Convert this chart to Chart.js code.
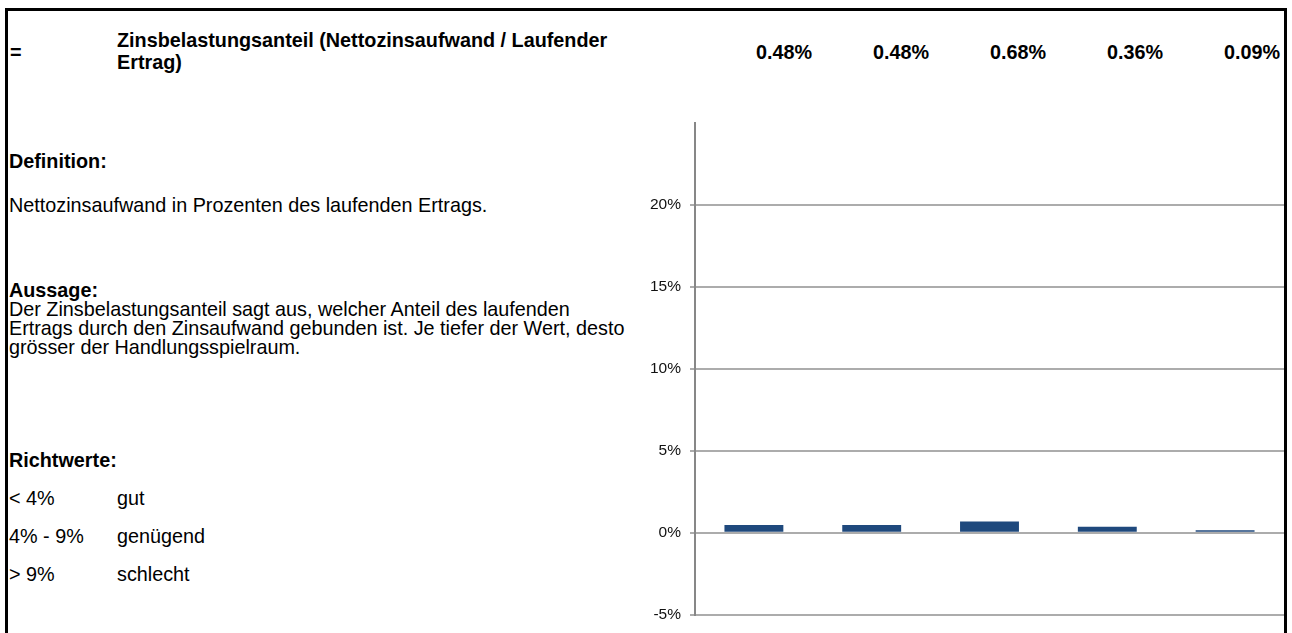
<!DOCTYPE html>
<html lang="de">
<head>
<meta charset="utf-8">
<title>Zinsbelastungsanteil</title>
<script src="https://cdn.jsdelivr.net/npm/chart.js@4.4.0/dist/chart.umd.min.js"></script>
<style>
    html, body {
        margin: 0;
        padding: 0;
        background: #fff;
    }
    body {
        width: 1292px;
        height: 633px;
        position: relative;
        overflow: hidden;
        font-family: "Liberation Sans", Arial, sans-serif;
        font-size: 19.8px;
        line-height: 19px;
        color: #000;
    }
    .frame {
        position: absolute;
        left: 5px;
        top: 8px;
        width: 1282px;
        height: 640px;
        box-sizing: border-box;
        border: 3px solid #000;
        border-bottom: none;
    }
    .txt {
        position: absolute;
        white-space: nowrap;
    }
    .bold {
        font-weight: bold;
    }
    .value {
        position: absolute;
        font-weight: bold;
        text-align: right;
        width: 100px;
    }
    #chartBox {
        position: absolute;
        left: 600px;
        top: 100px;
        width: 684px;
        height: 533px;
    }
</style>
</head>
<body>
<div class="frame"></div>

<div class="txt bold" style="left:10px; top:43px;">=</div>
<div class="txt bold" style="left:117px; top:29px; line-height:22px;">Zinsbelastungsanteil (Nettozinsaufwand / Laufender<br>Ertrag)</div>
<div id="headerValues"></div>

<div class="txt bold" style="left:9px; top:152px;">Definition:</div>
<div class="txt" style="left:9px; top:196px;">Nettozinsaufwand in Prozenten des laufenden Ertrags.</div>

<div class="txt" style="left:9px; top:281px;">
    <span class="bold">Aussage:</span><br>
    Der Zinsbelastungsanteil sagt aus, welcher Anteil des laufenden<br>
    Ertrags durch den Zinsaufwand gebunden ist. Je tiefer der Wert, desto<br>
    grösser der Handlungsspielraum.
</div>

<div class="txt bold" style="left:9px; top:451px;">Richtwerte:</div>
<div id="richtwerte"></div>

<div id="chartBox"><canvas id="zinsChart"></canvas></div>

<script>
// Daten
const years = ['Jahr 1', 'Jahr 2', 'Jahr 3', 'Jahr 4', 'Jahr 5'];
const zinsbelastung = [0.48, 0.48, 0.68, 0.36, 0.09];
const yTicks = [-5, 0, 5, 10, 15, 20, 25];
const richtBereiche = ['< 4%', '4% - 9%', '> 9%'];
const richtUrteile = ['gut', 'genügend', 'schlecht'];

// Kopfzeile mit den Werten (Tabellenspalten)
const headerValues = document.getElementById('headerValues');
headerValues.innerHTML = zinsbelastung.map((v, i) => `
    <div class="value" style="left:${1180 - (zinsbelastung.length - 1 - i) * 117}px; top:43px;">${v.toFixed(2)}%</div>
`).join('');

// Richtwerte-Tabelle
const richtTops = [489, 527, 565];
document.getElementById('richtwerte').innerHTML = richtBereiche.map((b, i) => `
    <div class="txt" style="left:9px; top:${richtTops[i]}px;">${b}</div>
    <div class="txt" style="left:117px; top:${richtTops[i]}px;">${richtUrteile[i]}</div>
`).join('');

const ctx = document.getElementById('zinsChart').getContext('2d');
new Chart(ctx, {
    type: 'bar',
    data: {
        labels: years,
        datasets: [{
            label: 'Zinsbelastungsanteil',
            data: zinsbelastung,
            backgroundColor: '#1f497d',
            borderWidth: 0,
            categoryPercentage: 1,
            barPercentage: 0.5,
            minBarLength: 2.5
        }]
    },
    options: {
        responsive: true,
        maintainAspectRatio: false,
        animation: false,
        layout: {
            padding: { top: 23, bottom: 16, left: 0, right: 0 }
        },
        plugins: {
            legend: { display: false },
            tooltip: { enabled: false }
        },
        scales: {
            x: {
                display: false
            },
            y: {
                min: yTicks[0],
                max: yTicks[yTicks.length - 1],
                afterBuildTicks: (scale) => {
                    scale.ticks = yTicks.map(v => ({ value: v }));
                },
                afterFit: (scale) => {
                    scale.width = 95;
                },
                border: {
                    display: true,
                    color: '#878787',
                    width: 2
                },
                grid: {
                    lineWidth: 2,
                    tickLength: 5,
                    color: (c) => (c.tick && c.tick.value === 25) ? 'rgba(0,0,0,0)' : '#acacac'
                },
                ticks: {
                    padding: 9,
                    color: '#111',
                    font: { family: '"Liberation Sans", Arial, sans-serif', size: 15.5 },
                    callback: (v) => v === 25 ? '' : v + '%'
                }
            }
        }
    }
});
</script>
</body>
</html>
